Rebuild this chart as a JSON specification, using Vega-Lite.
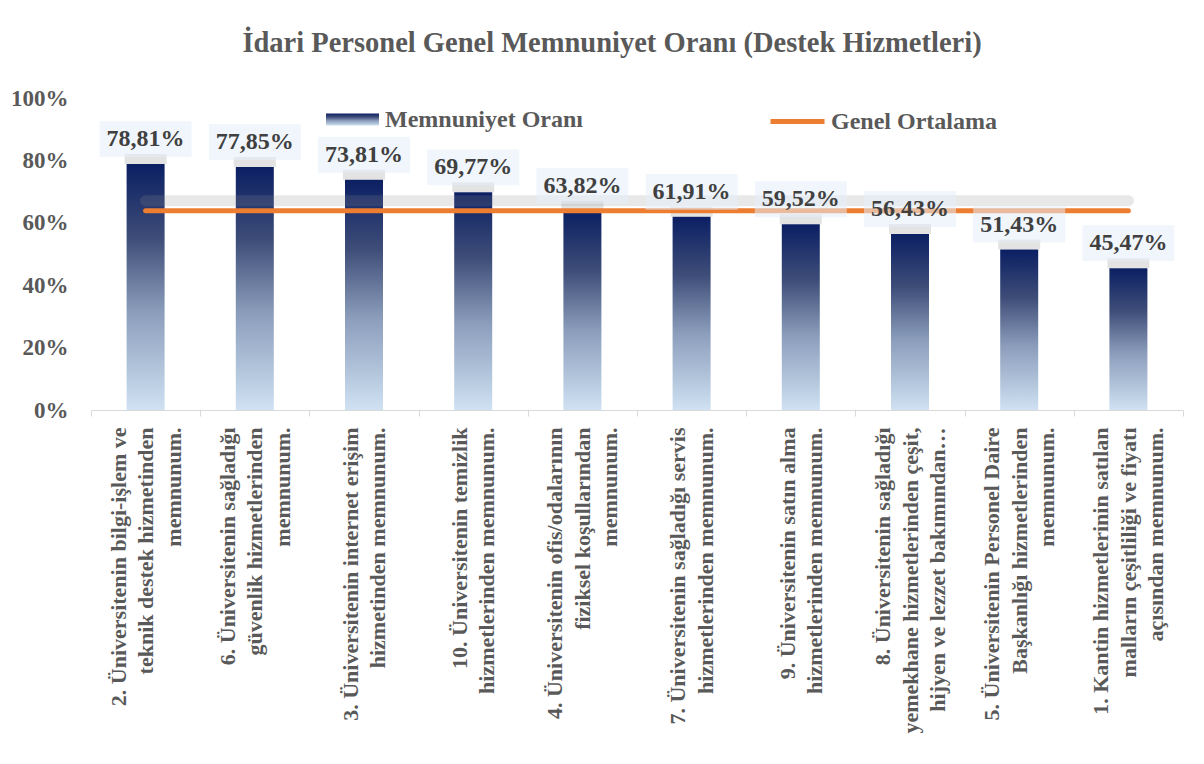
{
  "$schema": "https://vega.github.io/schema/vega-lite/v6.json",
  "width": 1092,
  "height": 312,
  "autosize": {"type": "none"},
  "padding": {"left": 91, "top": 98, "right": 21, "bottom": 354},
  "background": "white",
  "title": {
    "text": "İdari Personel Genel Memnuniyet Oranı (Destek Hizmetleri)",
    "font": "Liberation Serif",
    "fontSize": 28.5,
    "fontWeight": "bold",
    "color": "#595959",
    "anchor": "middle",
    "frame": "group",
    "dx": -25,
    "offset": 30
  },
  "data": {
    "values": [
      {"kategori": "2. Üniversitenin bilgi-işlem ve|teknik destek hizmetinden\u00a0\u00a0\u00a0|memnunum.\u00a0\u00a0\u00a0\u00a0\u00a0\u00a0\u00a0\u00a0\u00a0\u00a0\u00a0\u00a0\u00a0\u00a0", "oran": 0.7881, "ortalama": 0.6388},
      {"kategori": "6. Üniversitenin sağladığı|güvenlik hizmetlerinden\u00a0|memnunum.\u00a0\u00a0\u00a0\u00a0\u00a0\u00a0\u00a0\u00a0\u00a0\u00a0\u00a0", "oran": 0.7785, "ortalama": 0.6388},
      {"kategori": "3. Üniversitenin internet erişim|hizmetinden memnunum.\u00a0\u00a0\u00a0\u00a0\u00a0", "oran": 0.7381, "ortalama": 0.6388},
      {"kategori": "10. Üniversitenin temizlik\u00a0\u00a0|hizmetlerinden memnunum.", "oran": 0.6977, "ortalama": 0.6388},
      {"kategori": "4. Üniversitenin ofis/odalarının|fiziksel koşullarından\u00a0\u00a0\u00a0\u00a0\u00a0\u00a0\u00a0\u00a0|memnunum.\u00a0\u00a0\u00a0\u00a0\u00a0\u00a0\u00a0\u00a0\u00a0\u00a0\u00a0\u00a0\u00a0\u00a0\u00a0\u00a0", "oran": 0.6382, "ortalama": 0.6388},
      {"kategori": "7. Üniversitenin sağladığı servis|hizmetlerinden memnunum.\u00a0\u00a0\u00a0", "oran": 0.6191, "ortalama": 0.6388},
      {"kategori": "9. Üniversitenin satın alma\u00a0|hizmetlerinden memnunum.", "oran": 0.5952, "ortalama": 0.6388},
      {"kategori": "8. Üniversitenin sağladığı\u00a0\u00a0\u00a0\u00a0\u00a0\u00a0|yemekhane hizmetlerinden çeşit,|hijyen ve lezzet bakımından…\u00a0\u00a0", "oran": 0.5643, "ortalama": 0.6388},
      {"kategori": "5. Üniversitenin Personel Daire|Başkanlığı hizmetlerinden\u00a0\u00a0\u00a0\u00a0|memnunum.\u00a0\u00a0\u00a0\u00a0\u00a0\u00a0\u00a0\u00a0\u00a0\u00a0\u00a0\u00a0\u00a0\u00a0\u00a0\u00a0", "oran": 0.5143, "ortalama": 0.6388},
      {"kategori": "1. Kantin hizmetlerinin satılan|malların çeşitliliği ve fiyatı\u00a0\u00a0\u00a0|açısından memnunum.\u00a0\u00a0\u00a0\u00a0\u00a0\u00a0\u00a0", "oran": 0.4547, "ortalama": 0.6388}
    ]
  },
  "encoding": {
    "x": {
      "field": "kategori",
      "type": "nominal",
      "sort": null,
      "title": null,
      "scale": {"paddingInner": 0, "paddingOuter": 0},
      "axis": {
        "labelAngle": -90,
        "labelAlign": "right",
        "labelBaseline": "middle",
        "labelExpr": "split(datum.label, '|')",
        "labelLineHeight": 27.5,
        "labelFontSize": 22,
        "labelPadding": 11,
        "labelOffset": {"condition": {"test": "length(split(datum.value, '|')) == 3", "value": -27.5}, "value": -13.75},
        "labelLimit": 600,
        "labelOverlap": false,
        "labelBound": false,
        "tickBand": "extent",
        "tickSize": 6,
        "tickColor": "#d9d9d9",
        "domainColor": "#d9d9d9",
        "domainWidth": 1
      }
    }
  },
  "layer": [
    {
      "mark": {
        "type": "bar",
        "size": 38,
        "color": {"gradient": "linear", "x1": 0, "y1": 0, "x2": 0, "y2": 1,
          "stops": [
            {"offset": 0, "color": "#0b1f63"},
            {"offset": 0.3, "color": "#3e4d78"},
            {"offset": 0.6, "color": "#8b9dbb"},
            {"offset": 1, "color": "#cfe1f2"}
          ]}
      },
      "encoding": {
        "y": {
          "field": "oran",
          "type": "quantitative",
          "title": null,
          "scale": {"domain": [0, 1]},
          "axis": {
            "values": [0, 0.2, 0.4, 0.6, 0.8, 1],
            "format": ".0%",
            "domain": false,
            "ticks": false,
            "grid": false,
            "labelPadding": 23,
            "labelFontSize": 23
          }
        },
        "opacity": {
          "datum": "Memnuniyet Oranı",
          "type": "nominal",
          "scale": {"range": [1]},
          "legend": {
            "orient": "none",
            "legendX": 234,
            "legendY": -6,
            "title": null,
            "symbolType": "M-1,-0.23H1V0.23H-1Z",
            "symbolSize": 2809,
            "labelOffset": 5,
            "labelLimit": 400,
            "encode": {
              "symbols": {
                "update": {
                  "fill": {"value": {"gradient": "linear", "x1": 0, "y1": 0, "x2": 0, "y2": 1,
                    "stops": [
                      {"offset": 0, "color": "#0b1f63"},
                      {"offset": 1, "color": "#cfe1f2"}
                    ]}},
                  "opacity": {"value": 1},
                  "strokeWidth": {"value": 0}
                }
              }
            }
          }
        }
      }
    },
    {
      "mark": {"type": "tick", "orient": "horizontal", "size": 42, "thickness": 10, "color": "#7f7f7f", "opacity": 0.22, "yOffset": -5},
      "encoding": {
        "y": {"field": "oran", "type": "quantitative", "title": null}
      }
    },
    {
      "mark": {"type": "line", "strokeWidth": 11, "color": "#8c8c8c", "opacity": 0.2, "strokeCap": "round", "yOffset": -10},
      "encoding": {
        "y": {"field": "ortalama", "type": "quantitative", "title": null}
      }
    },
    {
      "mark": {"type": "line", "strokeWidth": 5, "strokeCap": "round"},
      "encoding": {
        "y": {"field": "ortalama", "type": "quantitative", "title": null},
        "color": {
          "datum": "Genel Ortalama",
          "type": "nominal",
          "scale": {"range": ["#ed7d31"]},
          "legend": {
            "orient": "none",
            "legendX": 677,
            "legendY": -6,
            "title": null,
            "symbolType": "stroke",
            "symbolSize": 2916,
            "symbolStrokeWidth": 5,
            "labelOffset": 4,
            "labelLimit": 400
          }
        }
      }
    },
    {
      "mark": {"type": "point", "shape": "M-1,-0.39H1V0.39H-1Z", "size": 8464, "filled": true, "color": "#e4eef9", "opacity": 0.55, "strokeWidth": 0, "yOffset": -25},
      "encoding": {
        "y": {"field": "oran", "type": "quantitative", "title": null}
      }
    },
    {
      "mark": {"type": "text", "font": "Liberation Serif", "fontSize": 24, "fontWeight": "bold", "color": "#404040", "baseline": "middle", "align": "center", "yOffset": -25},
      "encoding": {
        "y": {"field": "oran", "type": "quantitative", "title": null},
        "text": {"field": "oran", "type": "quantitative", "format": ".2%"}
      }
    }
  ],
  "config": {
    "locale": {"number": {"decimal": ",", "thousands": ".", "grouping": [3], "currency": ["", " ₺"]}},
    "view": {"stroke": null},
    "font": "Liberation Serif",
    "axis": {"labelFont": "Liberation Serif", "labelFontWeight": "bold", "labelColor": "#595959", "labelFontSize": 24, "grid": false},
    "legend": {"labelFont": "Liberation Serif", "labelFontWeight": "bold", "labelColor": "#595959", "labelFontSize": 24}
  }
}
